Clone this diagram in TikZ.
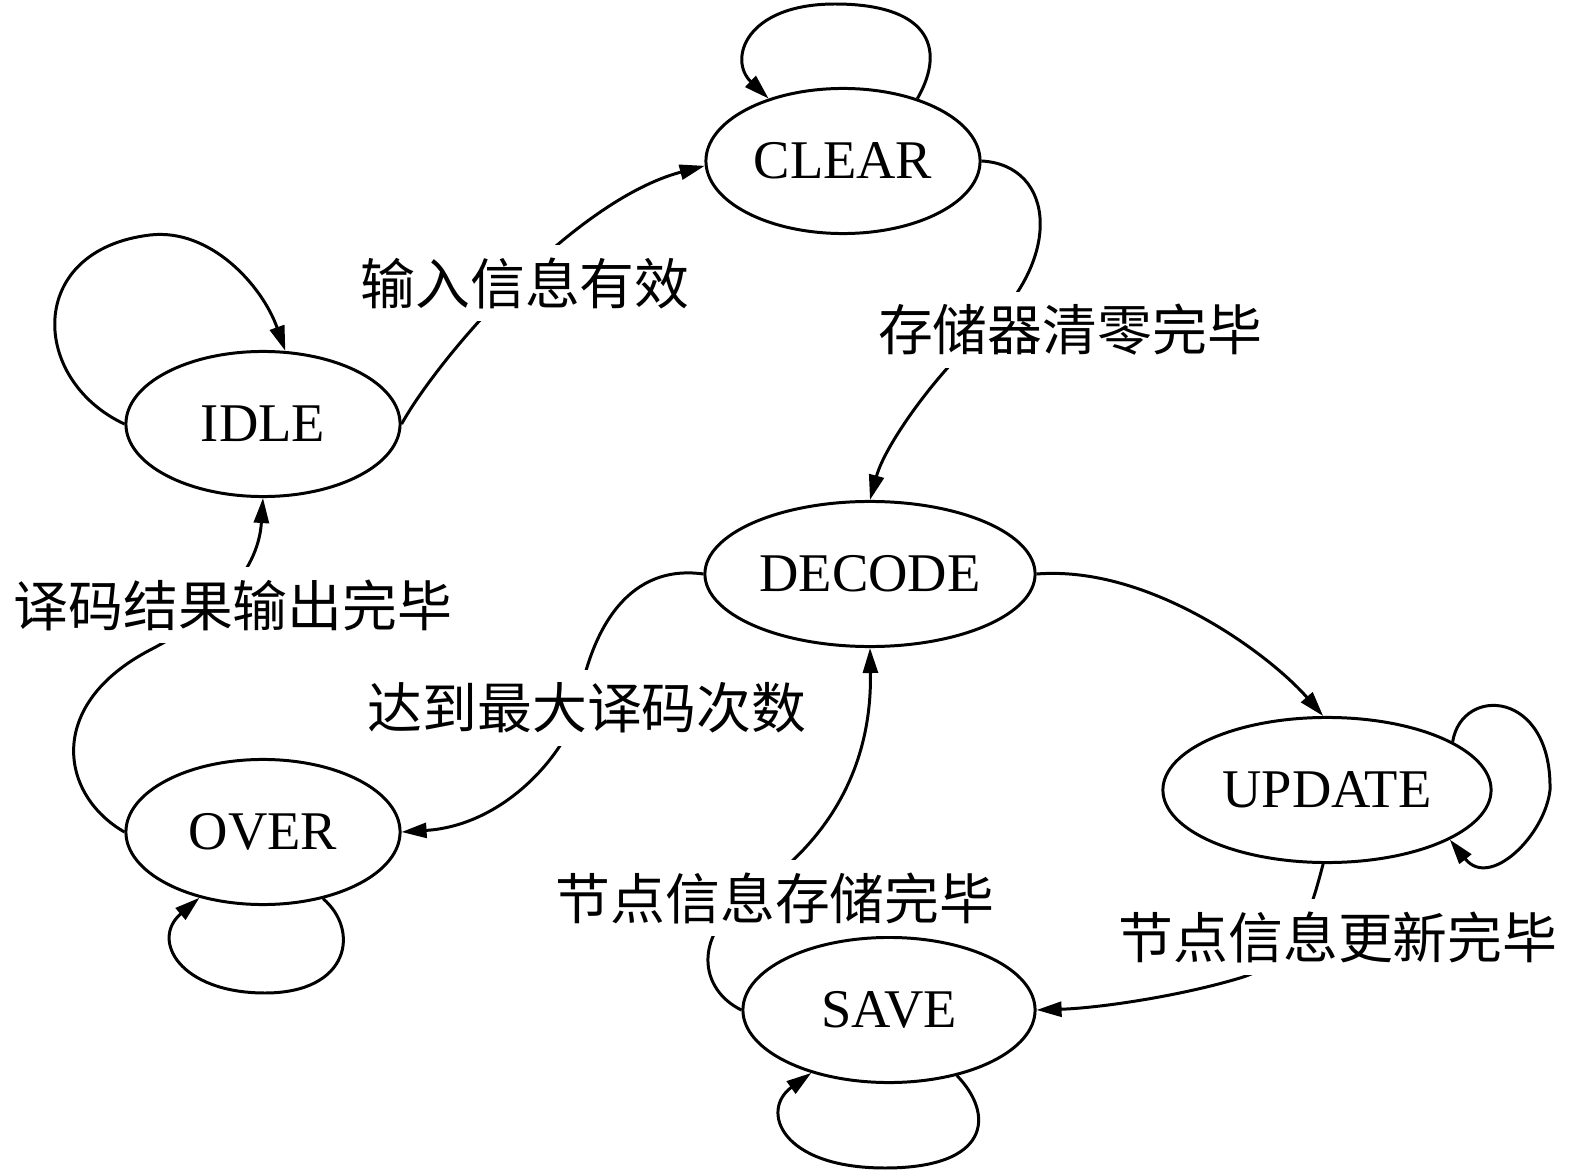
\documentclass[tikz,border=0pt]{standalone}
\usepackage{fontspec}
\setmainfont{Liberation Serif}
\newfontfamily\cjk{Noto Sans CJK SC}
\usetikzlibrary{shapes.geometric,arrows.meta}

\begin{document}
\begin{tikzpicture}[x=0.01cm, y=-0.01cm, line width=0.85pt,
        state/.style={ellipse, draw, inner sep=0pt, minimum height=1.45cm,
            font=\fontsize{15.5}{18}\selectfont},
        cond/.style={fill=white, inner xsep=2pt, inner ysep=3.5pt,
            font=\cjk\fontsize{15.6}{18}\selectfont},
        trans/.style={-{Triangle[length=2.5mm,width=1.5mm]}}]
            \useasboundingbox (0,0) rectangle (1575,1173);

            \node[state, minimum width=2.74cm] (CLEAR)  at (843,161)  {CLEAR};
            \node[state, minimum width=2.74cm] (IDLE)   at (263,424)  {IDLE};
            \node[state, minimum width=3.30cm] (DECODE) at (870,574)  {DECODE};
            \node[state, minimum width=3.28cm] (UPDATE) at (1327,790) {UPDATE};
            \node[state, minimum width=2.74cm] (OVER)   at (263,832)  {OVER};
            \node[state, minimum width=2.92cm] (SAVE)   at (889,1010) {SAVE};

            \draw[trans] (CLEAR.40) .. controls (948,45) and (925,4) .. (835,4)
                .. controls (745,4) and (728,60) .. (CLEAR.140);
            \draw[trans] (IDLE.west) .. controls (30,380) and (25,250) .. (150,235)
                .. controls (210,228) and (262,285) .. (IDLE.73);
            \draw[trans] (IDLE.east) .. controls (440,355) and (575,200) .. (CLEAR.182);
            \draw[trans] (CLEAR.east) .. controls (1055,165) and (1065,260) .. (980,335)
                .. controls (935,375) and (885,445) .. (DECODE.north);
            \draw[trans] (DECODE.east) .. controls (1150,565) and (1270,655) .. (UPDATE.93);
            \draw[trans] (UPDATE.21) .. controls (1462,685) and (1552,690) .. (1550,790)
                .. controls (1545,835) and (1490,890) .. (UPDATE.-22);
            \draw[trans] (UPDATE.-93) .. controls (1312,905) and (1300,960) .. (1240,978)
                .. controls (1180,996) and (1100,1008) .. (SAVE.east);
            \draw[trans] (SAVE.-44) .. controls (995,1115) and (990,1168) .. (885,1168)
                .. controls (780,1168) and (760,1110) .. (SAVE.-141);
            \draw[trans] (SAVE.west) .. controls (700,990) and (690,935) .. (752,893)
                .. controls (835,837) and (872,760) .. (DECODE.south);
            \draw[trans] (DECODE.west) .. controls (640,565) and (595,610) .. (578,705)
                .. controls (571,745) and (510,825) .. (OVER.east);
            \draw[trans] (OVER.-48) .. controls (360,930) and (350,993) .. (265,993)
                .. controls (180,993) and (150,940) .. (OVER.-134);
            \draw[trans] (OVER.west) .. controls (60,795) and (45,705) .. (150,650)
                .. controls (210,619) and (258,575) .. (IDLE.south);

            \node[cond] (ic) at (525,283)  {输入信息有效};
            \node[cond] (cd) at (1070,330) {存储器清零完毕};
            \node[cond] (oi) at (233,605)  {译码结果输出完毕};
            \node[cond] (do) at (587,708)  {达到最大译码次数};
            \node[cond] (sd) at (775,898)  {节点信息存储完毕};
            \node[cond] (us) at (1338,937) {节点信息更新完毕};

        \end{tikzpicture}
\end{document}
